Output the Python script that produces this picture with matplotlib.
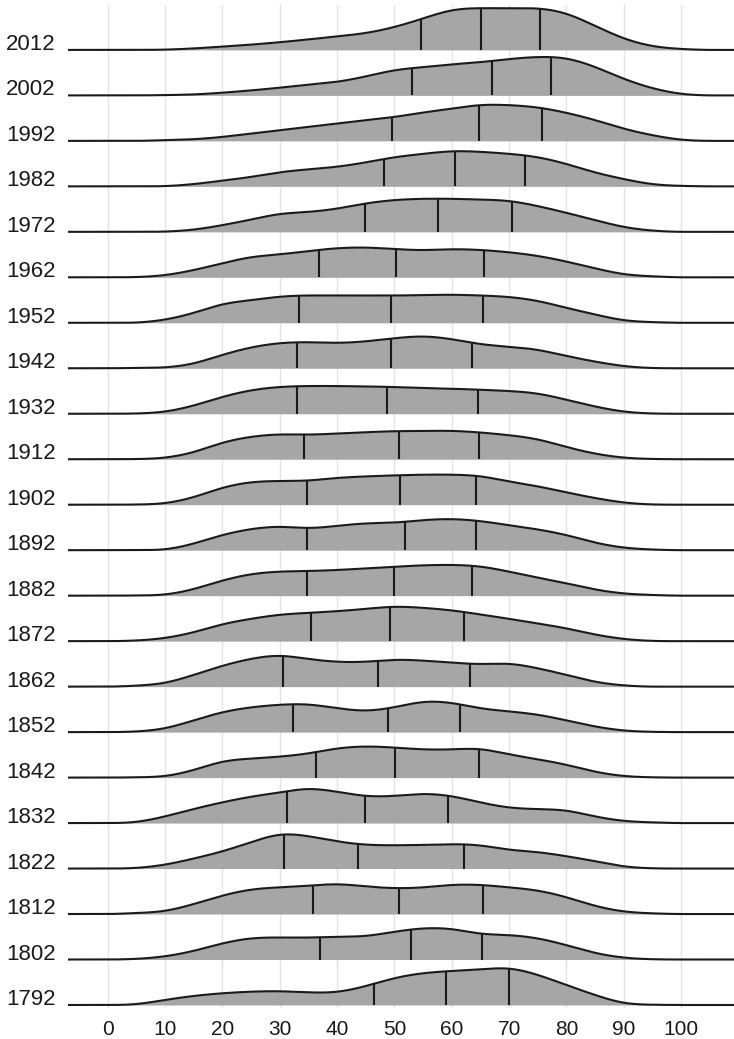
import numpy as np
import matplotlib
matplotlib.use("Agg")
import matplotlib.pyplot as plt

plt.rcParams['font.family'] = ['Liberation Sans', 'DejaVu Sans']

# ---- data ----
years = ["1792", "1802", "1812", "1822", "1832", "1842", "1852", "1862", "1872",
         "1882", "1892", "1902", "1912", "1932", "1942", "1952", "1962", "1972",
         "1982", "1992", "2002", "2012"]

# relative density heights sampled at x = 0, 5, ..., 100
grid_x = list(range(0, 101, 5))
dens_1792 = [0, 1, 5, 9, 11.7, 13.3, 13.7, 12.7, 13.3, 19, 26.7, 31.7, 34, 35.7, 36.3, 30, 20, 10, 2.3, 0.3, 0]
dens_1802 = [0, 0.7, 3.3, 8.7, 16, 21, 22, 22, 22.7, 23.7, 27.7, 31, 30.3, 26, 24.3, 21, 14.3, 6.7, 2, 0.3, 0]
dens_1812 = [0, 1, 3.3, 10, 18.3, 24.3, 26.7, 28.3, 29.7, 27.7, 26, 26.7, 29, 29, 26.7, 23.3, 16.7, 8.3, 2.7, 0.7, 0]
dens_1822 = [0, 0.7, 4, 10, 17.3, 26.3, 33.7, 32.3, 27.3, 24, 23.3, 23.7, 24.3, 23, 19, 16.3, 12.3, 7.3, 2.3, 0.3, 0]
dens_1832 = [0, 1.3, 6.7, 14, 20.7, 26.3, 30.7, 34, 31.3, 27.3, 27.3, 29, 26.7, 20.7, 15.7, 14, 12.3, 6.7, 2.3, 0.7, 0]
dens_1842 = [0, 0.3, 1.7, 7.7, 15.7, 19, 21, 24.3, 29, 31, 30, 28.3, 28.3, 28.3, 23.3, 18.3, 12.7, 6, 1.7, 0.3, 0]
dens_1852 = [0, 0.7, 4, 11.7, 19.7, 24.7, 27.3, 27.5, 24, 21.7, 25, 30, 29, 24, 20.7, 17.3, 11.7, 5.7, 1.7, 0.3, 0]
dens_1862 = [0, 1, 4, 11.7, 20.7, 27.7, 30.7, 27.7, 25, 25, 26.7, 26, 24, 22.7, 22.7, 18.3, 11.7, 5, 1.3, 0, 0]
dens_1872 = [0, 0.7, 3.3, 9, 16.7, 22.3, 26.3, 28.3, 30, 32.3, 34.3, 33.3, 30.7, 26.7, 22.3, 17.7, 12.7, 6.7, 2.3, 0.3, 0]
dens_1882 = [0, 0.2, 1.3, 6.7, 15, 21.3, 24, 24.7, 25.7, 27.3, 29, 30.3, 30.7, 29, 24, 18, 12.3, 6.3, 2.3, 0.7, 0]
dens_1892 = [0, 0.2, 1, 6.7, 15, 21, 23.3, 22.3, 24.3, 26.7, 27.7, 30, 31, 29, 25, 20.7, 15, 7.7, 2.7, 0.7, 0]
dens_1902 = [0, 0.2, 1.7, 7.7, 16.7, 22.3, 23.7, 24.3, 26.7, 28.3, 29.3, 30, 30, 28.3, 23.3, 18.3, 12.3, 6.7, 2.3, 0.3, 0]
dens_1912 = [0, 0.2, 1.7, 7.3, 16.3, 22.3, 24.7, 24.7, 25.7, 27, 28, 28.3, 28.3, 26.7, 24, 19.7, 12.3, 5.7, 1.7, 0.3, 0]
dens_1932 = [0, 0.3, 2.3, 8.3, 16.7, 23.3, 26.7, 27.7, 27.7, 27.3, 26.7, 25.7, 25, 24, 22.7, 20, 14, 7.3, 2.3, 0.3, 0]
dens_1942 = [0, 0.3, 1, 5, 13.3, 20.7, 25, 26, 25.5, 27, 30, 31.7, 29, 24.3, 21.5, 18.3, 12.3, 6.7, 2.3, 0.3, 0]
dens_1952 = [0, 0.3, 3.3, 10, 18.3, 22.7, 26, 27.3, 27.3, 27.3, 27.3, 27.7, 28, 27.3, 25.7, 21.7, 15, 8.3, 2.7, 0.7, 0]
dens_1962 = [0, 0.3, 2.3, 7.3, 14, 20, 23, 26.3, 29, 29.7, 28.3, 27.3, 28, 27.3, 25, 21.3, 15.7, 9, 3.3, 1, 0]
dens_1972 = [0, 0, 0.3, 2.3, 6.7, 12.3, 17.7, 20, 23.3, 28.3, 31.7, 33, 33, 32.3, 30.7, 25.7, 19, 11.7, 5, 1.3, 0]
dens_1982 = [0, 0, 0.3, 2.3, 5.7, 9.5, 14, 17, 19.7, 24, 29, 32.5, 35, 34.5, 32.5, 29, 22.3, 14, 7.3, 2.3, 0.5]
dens_1992 = [0, 0, 0.7, 1.7, 4, 7.3, 10.7, 14, 17.3, 20.7, 24, 28.3, 32.3, 35.7, 35.7, 33.3, 28, 20.7, 12.3, 5.7, 1.3]
dens_2002 = [0, 0, 0.3, 1, 2.7, 5, 7.7, 10.7, 13.7, 19, 25, 28.3, 31, 33.3, 36.3, 38.3, 36.7, 28.3, 16.7, 7.3, 1.7]
dens_2012 = [0, 0, 0.3, 1.5, 3.3, 5.3, 7.7, 10.5, 13.5, 17, 23, 31.5, 39.5, 41.7, 41.7, 41.3, 36, 24, 11.7, 4, 1]

densities = [dens_1792, dens_1802, dens_1812, dens_1822, dens_1832, dens_1842, dens_1852,
             dens_1862, dens_1872, dens_1882, dens_1892, dens_1902, dens_1912, dens_1932,
             dens_1942, dens_1952, dens_1962, dens_1972, dens_1982, dens_1992, dens_2002,
             dens_2012]

q1 = [46.5, 37.1, 35.8, 30.8, 31.3, 36.3, 32.3, 30.6, 35.5, 34.7, 34.7, 34.7, 34.2, 33.1,
      33.1, 33.4, 36.8, 44.9, 48.1, 49.6, 53.0, 54.6]
q2 = [59.0, 52.9, 50.8, 43.6, 44.8, 50.1, 48.9, 47.2, 49.3, 50.0, 51.9, 50.9, 50.8, 48.7,
      49.4, 49.4, 50.3, 57.6, 60.6, 64.7, 67.0, 65.1]
q3 = [69.9, 65.3, 65.5, 62.1, 59.4, 64.8, 61.4, 63.1, 62.1, 63.6, 64.3, 64.3, 64.8, 64.5,
      63.6, 65.4, 65.7, 70.5, 72.7, 75.7, 77.3, 75.3]

x_ticks = list(range(0, 101, 10))


def natural_spline(xk, yk, xq):
    xk = np.asarray(xk, float)
    yk = np.asarray(yk, float)
    n = len(xk)
    h = np.diff(xk)
    A = np.zeros((n, n))
    r = np.zeros(n)
    A[0, 0] = 1
    A[-1, -1] = 1
    for k in range(1, n - 1):
        A[k, k - 1] = h[k - 1]
        A[k, k] = 2 * (h[k - 1] + h[k])
        A[k, k + 1] = h[k]
        r[k] = 6 * ((yk[k + 1] - yk[k]) / h[k] - (yk[k] - yk[k - 1]) / h[k - 1])
    M = np.linalg.solve(A, r)
    xq = np.asarray(xq, float)
    idx = np.clip(np.searchsorted(xk, xq) - 1, 0, n - 2)
    x0, x1 = xk[idx], xk[idx + 1]
    hh = h[idx]
    a = (x1 - xq) / hh
    b = (xq - x0) / hh
    return (a * yk[idx] + b * yk[idx + 1]
            + ((a**3 - a) * M[idx] + (b**3 - b) * M[idx + 1]) * hh**2 / 6)


fig = plt.figure(figsize=(7.34, 10.39), dpi=100)
ax = fig.add_axes([68 / 734, 31 / 1039, 666 / 734, 1003 / 1039])

ROW_PX = 45.48  # pixel height of one row; densities are in pixel units
xmin, xmax = -6.9, 109.2
xs = np.linspace(xmin, xmax, 1500)
fill_col = '#a6a6a6'
line_col = '#1a1a1a'
LW = 1.5

n = len(years)
for i in range(n - 1, -1, -1):
    xk = [-15, -10, -5] + grid_x + [105, 110, 115]
    yk = [0, 0, 0] + densities[i] + [0, 0, 0]
    yv = np.clip(natural_spline(xk, yk, xs), 0, None) / ROW_PX
    base = i
    z = 2 + (n - i) * 0.01
    ax.fill_between(xs, base, base + yv, color=fill_col, lw=0, zorder=z)
    ax.plot(xs, base + yv, color=line_col, lw=LW, zorder=z + 0.005,
            solid_capstyle='butt', solid_joinstyle='round')
    for q in (q1[i], q2[i], q3[i]):
        hq = float(np.clip(natural_spline(xk, yk, [q]), 0, None)[0]) / ROW_PX
        ax.plot([q, q], [base, base + hq], color=line_col, lw=LW, zorder=z + 0.005,
                solid_capstyle='butt')

ax.set_xlim(xmin, xmax)
ax.set_ylim(-3 / ROW_PX, 1000 / ROW_PX)
ax.set_xticks(x_ticks)
ax.set_xticklabels([str(v) for v in x_ticks], fontsize=15, color='#1a1a1a')
ax.set_yticks(range(n))
ax.set_yticklabels(years, fontsize=16, color='#1a1a1a')
for lab in ax.get_yticklabels():
    lab.set_verticalalignment('baseline')
ax.tick_params(axis='x', length=0, pad=8.5)
ax.tick_params(axis='y', length=0, pad=9)
ax.grid(axis='x', color='#e4e4e4', lw=1.0, zorder=0)
ax.grid(axis='y', visible=False)
ax.set_axisbelow(True)
for s in ax.spines.values():
    s.set_visible(False)

fig.savefig("out.png", dpi=100, facecolor='white')
